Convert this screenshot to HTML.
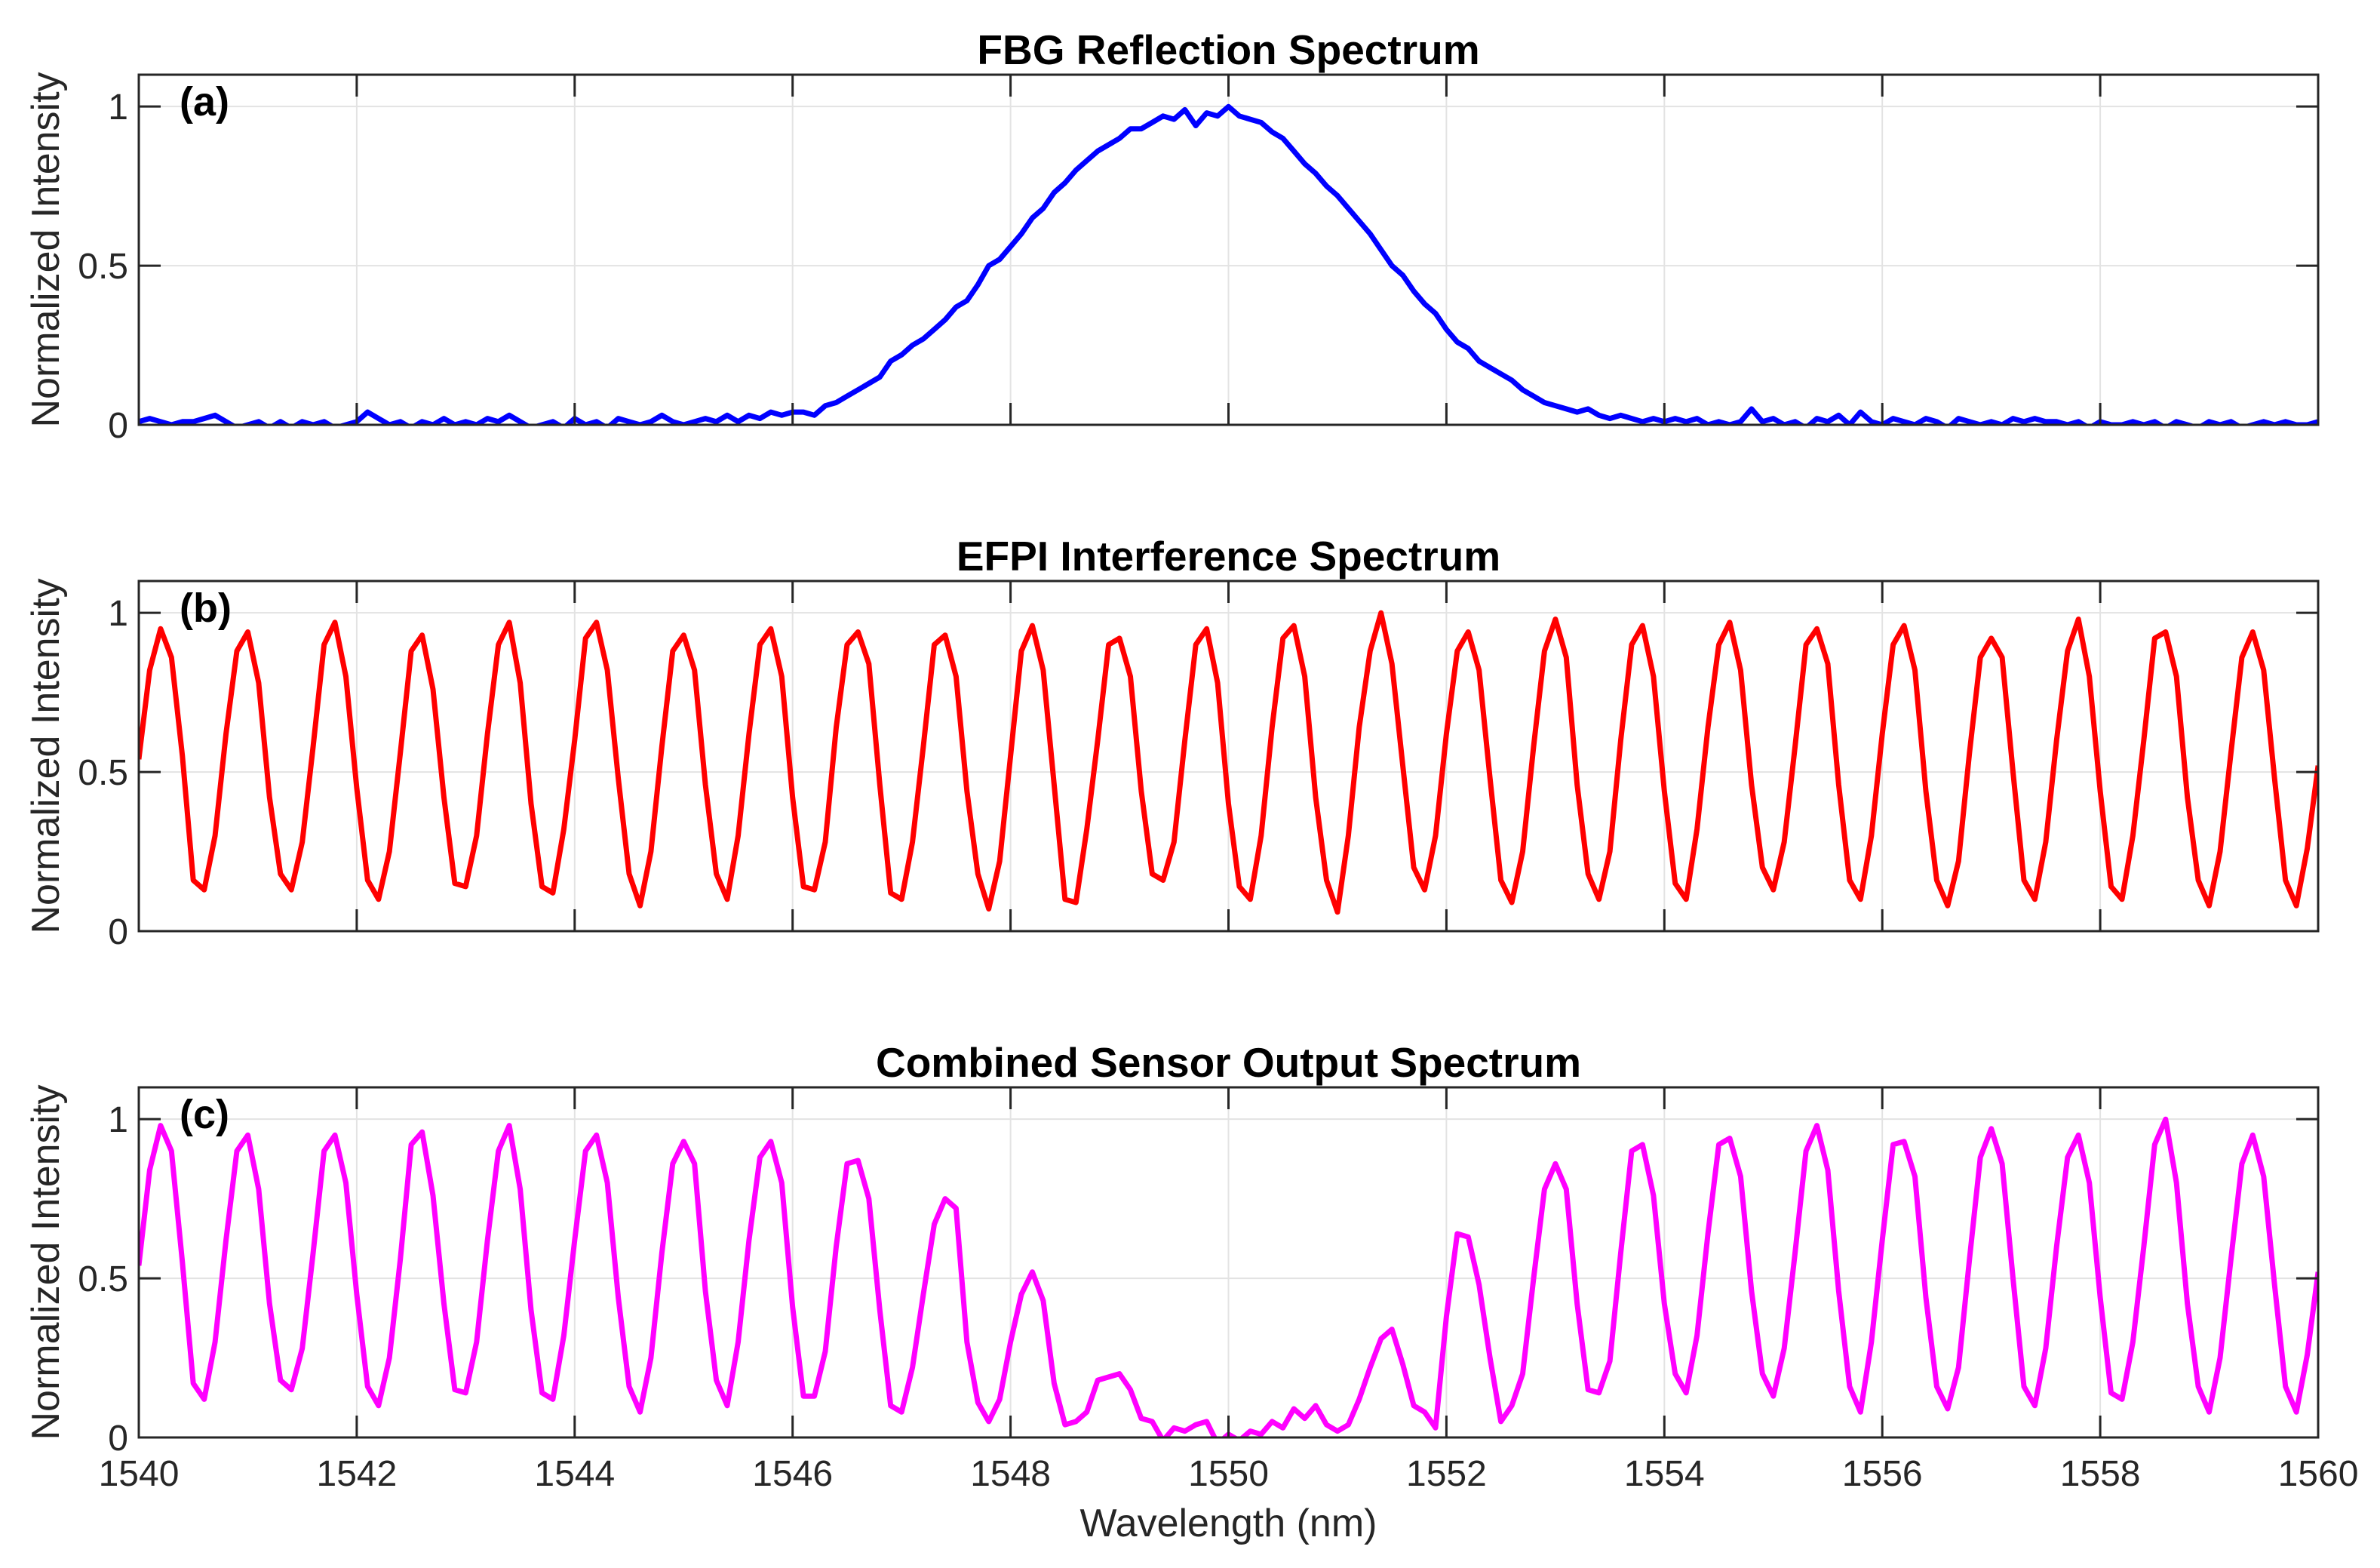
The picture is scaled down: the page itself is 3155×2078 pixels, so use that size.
<!DOCTYPE html>
<html><head><meta charset="utf-8"><style>
html,body{margin:0;padding:0;background:#fff;}
svg{display:block;font-family:"Liberation Sans",Arial,sans-serif;}
</style></head><body>
<svg id="fig" width="3155" height="2078" viewBox="0 0 3155 2078" xmlns="http://www.w3.org/2000/svg"></svg>
<script>
const xTicks=[1540,1542,1544,1546,1548,1550,1552,1554,1556,1558,1560];
const yTicks=[0,0.5,1];
const yTickLabels=["0","0.5","1"];
const titles=["FBG Reflection Spectrum","EFPI Interference Spectrum","Combined Sensor Output Spectrum"];
const panelLetters=["(a)","(b)","(c)"];
const xStart=1540, xStep=0.1;
const fbg=[
0.01,0.02,0.01,0,0.01,0.01,0.02,0.03,0.01,-0.01,
0,0.01,-0.01,0.01,-0.01,0.01,0,0.01,-0.01,0,
0.01,0.04,0.02,0,0.01,-0.01,0.01,0,0.02,0,
0.01,0,0.02,0.01,0.03,0.01,-0.01,0,0.01,-0.01,
0.02,0,0.01,-0.01,0.02,0.01,0,0.01,0.03,0.01,
0,0.01,0.02,0.01,0.03,0.01,0.03,0.02,0.04,0.03,
0.04,0.04,0.03,0.06,0.07,0.09,0.11,0.13,0.15,0.20,
0.22,0.25,0.27,0.30,0.33,0.37,0.39,0.44,0.50,0.52,
0.56,0.60,0.65,0.68,0.73,0.76,0.80,0.83,0.86,0.88,
0.90,0.93,0.93,0.95,0.97,0.96,0.99,0.94,0.98,0.97,
1.0,0.97,0.96,0.95,0.92,0.90,0.86,0.82,0.79,0.75,
0.72,0.68,0.64,0.60,0.55,0.50,0.47,0.42,0.38,0.35,
0.30,0.26,0.24,0.20,0.18,0.16,0.14,0.11,0.09,0.07,
0.06,0.05,0.04,0.05,0.03,0.02,0.03,0.02,0.01,0.02,
0.01,0.02,0.01,0.02,0,0.01,0,0.01,0.05,0.01,
0.02,0,0.01,-0.01,0.02,0.01,0.03,0,0.04,0.01,
0,0.02,0.01,0,0.02,0.01,-0.01,0.02,0.01,0,
0.01,0,0.02,0.01,0.02,0.01,0.01,0,0.01,-0.01,
0.01,0,0,0.01,0,0.01,-0.01,0.01,0,-0.01,
0.01,0,0.01,-0.01,0,0.01,0,0.01,0,0,
0.01];
const efpi=[
0.54,0.82,0.95,0.86,0.55,0.16,0.13,0.30,0.62,0.88,
0.94,0.78,0.42,0.18,0.13,0.28,0.58,0.90,0.97,0.80,
0.45,0.16,0.10,0.25,0.56,0.88,0.93,0.76,0.42,0.15,
0.14,0.30,0.62,0.90,0.97,0.78,0.40,0.14,0.12,0.32,
0.60,0.92,0.97,0.82,0.48,0.18,0.08,0.25,0.58,0.88,
0.93,0.82,0.46,0.18,0.10,0.30,0.62,0.90,0.95,0.80,
0.42,0.14,0.13,0.28,0.64,0.90,0.94,0.84,0.46,0.12,
0.10,0.28,0.58,0.90,0.93,0.80,0.44,0.18,0.07,0.22,
0.55,0.88,0.96,0.82,0.46,0.10,0.09,0.32,0.60,0.90,
0.92,0.80,0.44,0.18,0.16,0.28,0.60,0.90,0.95,0.78,
0.40,0.14,0.10,0.30,0.64,0.92,0.96,0.80,0.42,0.16,
0.06,0.30,0.64,0.88,1.00,0.84,0.52,0.20,0.13,0.30,
0.62,0.88,0.94,0.82,0.48,0.16,0.09,0.25,0.58,0.88,
0.98,0.86,0.46,0.18,0.10,0.25,0.60,0.90,0.96,0.80,
0.44,0.15,0.10,0.32,0.64,0.90,0.97,0.82,0.46,0.20,
0.13,0.28,0.58,0.90,0.95,0.84,0.46,0.16,0.10,0.30,
0.62,0.90,0.96,0.82,0.44,0.16,0.08,0.22,0.56,0.86,
0.92,0.86,0.50,0.16,0.10,0.28,0.60,0.88,0.98,0.80,
0.44,0.14,0.10,0.30,0.60,0.92,0.94,0.80,0.42,0.16,
0.08,0.25,0.56,0.86,0.94,0.82,0.48,0.16,0.08,0.26,
0.52];
const combined=[
0.54,0.84,0.98,0.90,0.55,0.17,0.12,0.30,0.62,0.90,
0.95,0.78,0.42,0.18,0.15,0.28,0.58,0.90,0.95,0.80,
0.45,0.16,0.10,0.25,0.56,0.92,0.96,0.76,0.42,0.15,
0.14,0.30,0.62,0.90,0.98,0.78,0.40,0.14,0.12,0.32,
0.62,0.90,0.95,0.80,0.44,0.16,0.08,0.25,0.58,0.86,
0.93,0.86,0.46,0.18,0.10,0.30,0.62,0.88,0.93,0.80,
0.41,0.13,0.13,0.27,0.60,0.86,0.87,0.75,0.40,0.10,
0.08,0.22,0.45,0.67,0.75,0.72,0.30,0.11,0.05,0.12,
0.30,0.45,0.52,0.43,0.17,0.04,0.05,0.08,0.18,0.19,
0.20,0.15,0.06,0.05,-0.01,0.03,0.02,0.04,0.05,-0.02,
0.01,-0.01,0.02,0.01,0.05,0.03,0.09,0.06,0.10,0.04,
0.02,0.04,0.12,0.22,0.31,0.34,0.23,0.10,0.08,0.03,
0.38,0.64,0.63,0.48,0.25,0.05,0.10,0.20,0.50,0.78,
0.86,0.78,0.42,0.15,0.14,0.24,0.58,0.90,0.92,0.76,
0.42,0.20,0.14,0.32,0.64,0.92,0.94,0.82,0.46,0.20,
0.13,0.28,0.58,0.90,0.98,0.84,0.46,0.16,0.08,0.30,
0.62,0.92,0.93,0.82,0.44,0.16,0.09,0.22,0.56,0.88,
0.97,0.86,0.50,0.16,0.10,0.28,0.60,0.88,0.95,0.80,
0.44,0.14,0.12,0.30,0.60,0.92,1.00,0.80,0.42,0.16,
0.08,0.25,0.56,0.86,0.95,0.82,0.48,0.16,0.08,0.26,
0.52];
const seriesList=[fbg,efpi,combined];
const colors=["#0000ff","#ff0000","#ff00ff"];
const seriesNames=["fbg-line","efpi-line","combined-line"];

const NS="http://www.w3.org/2000/svg";
const svg=document.getElementById('fig');
const L=184,R=3073,H=464,tops=[99,770,1441];
const yMax=1.1;
function xs(v){return L+(v-1540)/(1560-1540)*(R-L);}
function ysF(top){return v=>top+H-(v/yMax)*H;}
function mk(tag,attrs,parent){const e=document.createElementNS(NS,tag);for(const k in attrs)e.setAttribute(k,attrs[k]);(parent||svg).appendChild(e);return e;}
const defs=mk('defs',{});
tops.forEach((top,p)=>{
  const ys=ysF(top);
  const g=mk('g',{});
  
  
  const cp=mk('clipPath',{id:'clip'+p},defs);
  mk('rect',{x:L,y:top,width:R-L,height:H},cp);
  xTicks.forEach(t=>{const l=mk('line',{x1:xs(t),x2:xs(t),y1:top,y2:top+H,stroke:'#e3e3e3','stroke-width':2},g);
    });
  yTicks.forEach(t=>{const l=mk('line',{x1:L,x2:R,y1:ys(t),y2:ys(t),stroke:'#e3e3e3','stroke-width':2},g);
    });
  const d=seriesList[p].map((v,i)=>(i?'L':'M')+xs(xStart+i*xStep).toFixed(1)+','+ys(v).toFixed(1)).join('');
  const path=mk('path',{d:d,fill:'none',stroke:colors[p],'stroke-width':7,'stroke-linejoin':'round','clip-path':'url(#clip'+p+')'},g);
  
  
  const box=mk('rect',{x:L,y:top,width:R-L,height:H,fill:'none',stroke:'#262626','stroke-width':3},g);
  
  xTicks.forEach(t=>{mk('line',{x1:xs(t),x2:xs(t),y1:top+H,y2:top+H-29,stroke:'#262626','stroke-width':3},g);
    mk('line',{x1:xs(t),x2:xs(t),y1:top,y2:top+29,stroke:'#262626','stroke-width':3},g);});
  yTicks.forEach((t,i)=>{mk('line',{x1:L,x2:L+29,y1:ys(t),y2:ys(t),stroke:'#262626','stroke-width':3},g);
    mk('line',{x1:R,x2:R-29,y1:ys(t),y2:ys(t),stroke:'#262626','stroke-width':3},g);
    const tl=mk('text',{x:L-14,y:ys(t)+17,'text-anchor':'end','font-size':48,fill:'#262626'},g);
    tl.textContent=yTickLabels[i];
    });
  if(p===2){xTicks.forEach(t=>{const tl=mk('text',{x:xs(t),y:top+H+64,'text-anchor':'middle','font-size':48,fill:'#262626'},g);
    tl.textContent=String(t);});}
  const ti=mk('text',{x:(L+R)/2,y:top-14,'text-anchor':'middle','font-size':55,'font-weight':'bold',fill:'#000'},g);
  ti.textContent=titles[p];
  const pl=mk('text',{x:238,y:top+54,'font-size':54,'font-weight':'bold',fill:'#000'},g);
  pl.textContent=panelLetters[p];
  const yl=mk('text',{x:0,y:0,transform:'translate(78,'+(top+H/2)+') rotate(-90)','text-anchor':'middle','font-size':52,fill:'#262626'},g);
  yl.textContent='Normalized Intensity';
});
const xl=mk('text',{x:(L+R)/2,y:2036,'text-anchor':'middle','font-size':52,fill:'#262626'});
xl.textContent='Wavelength (nm)';


</script>
</body></html>
